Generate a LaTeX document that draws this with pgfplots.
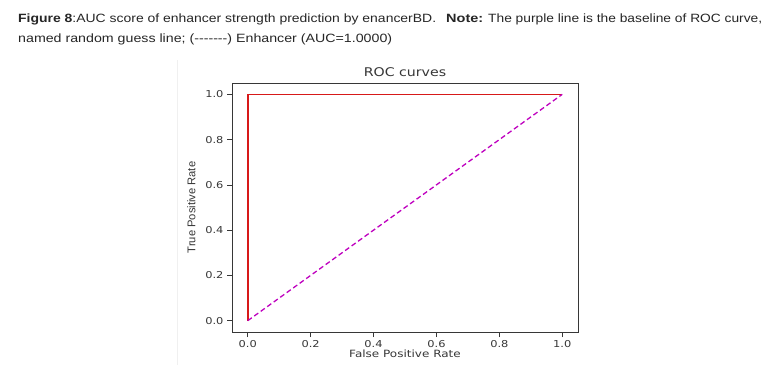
\documentclass[border=0pt]{standalone}
\usepackage{fontspec}
\usepackage{graphicx}
\setmainfont{Liberation Sans}
\newfontfamily\capfont{Liberation Sans}
\newfontfamily\djv{DejaVu Sans}
\newfontfamily\djvx{DejaVu Sans}[FakeStretch=1.2]
\newfontfamily\djvt{DejaVu Sans}[FakeStretch=1.18]
\newfontfamily\ylabfont{Liberation Sans}
\usepackage{pgfplots}
\pgfplotsset{compat=1.18}
\newcommand\hy{\mbox{-}}
\definecolor{rocred}{RGB}{215,25,25}
\definecolor{mpurple}{RGB}{191,0,191}
\definecolor{axgray}{RGB}{55,55,55}
\begin{document}
\begin{tikzpicture}
\path[use as bounding box, fill=white] (0bp,0bp) rectangle (776bp,-390bp);
\begin{scope}[every node/.style={anchor=base west, inner sep=0pt, font=\capfont\fontsize{12bp}{14bp}\selectfont, text=black!85}]
\node at (18bp,-22.5bp) {\resizebox{418bp}{\height}{\textbf{Figure 8}:AUC score of enhancer strength prediction by enancerBD.}};
\node at (446bp,-22.5bp) {\resizebox{37bp}{\height}{\textbf{Note:}}};
\node at (488bp,-22.5bp) {\resizebox{274bp}{\height}{The purple line is the baseline of ROC curve,}};
\node at (18bp,-42.5bp) {\resizebox{374bp}{\height}{named random guess line; (\hy\hy\hy\hy\hy\hy\hy) Enhancer (AUC=1.0000)}};
\end{scope}
\draw[gray!12, line width=0.8bp] (177bp,-60bp) -- (177bp,-365bp);
\begin{axis}[
  at={(232bp,-332bp)}, anchor=south west,
  scale only axis, width=346bp, height=249bp,
  xmin=-0.05, xmax=1.05, ymin=-0.05, ymax=1.05,
  xtick={0,0.2,0.4,0.6,0.8,1.0},
  ytick={0,0.2,0.4,0.6,0.8,1.0},
  xticklabel style={/pgf/number format/.cd, fixed, fixed zerofill, precision=1, assume math mode=true},
  yticklabel style={/pgf/number format/.cd, fixed, fixed zerofill, precision=1, assume math mode=true},
  tick label style={font=\djvx\fontsize{9.5bp}{11bp}\selectfont, text=axgray},
  xtick pos=left, ytick pos=left,
  tick align=outside, major tick length=5bp,
  tick style={axgray, line width=0.7bp},
  axis line style={axgray, line width=0.9bp},
  title={ROC curves},
  title style={font=\djvt\fontsize{12bp}{14bp}\selectfont, text=axgray, yshift=-3bp},
  xlabel={False Positive Rate},
  xlabel style={font=\djvx\fontsize{10bp}{12bp}\selectfont, text=axgray, yshift=5bp},
  ylabel={True Positive Rate},
  ylabel style={font=\ylabfont\fontsize{11.2bp}{13bp}\selectfont, text=axgray, yshift=3bp},
]
\addplot[rocred, line width=1.6bp] coordinates {(0,0) (0,1) (1,1)};
\addplot[mpurple, line width=1.3bp, dash pattern=on 5bp off 3bp] coordinates {(0,0) (1,1)};
\end{axis}
\end{tikzpicture}
\end{document}
